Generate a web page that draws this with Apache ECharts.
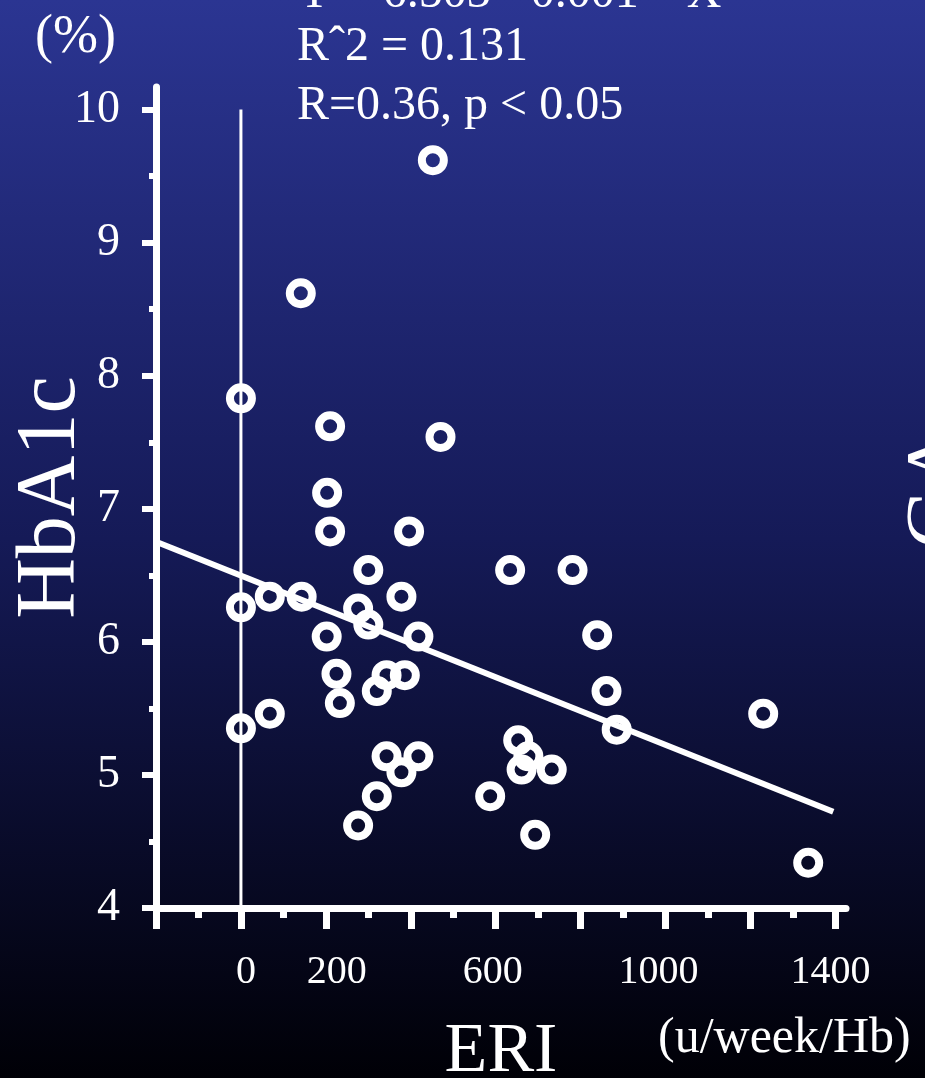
<!DOCTYPE html>
<html>
<head>
<meta charset="utf-8">
<script src="https://cdn.jsdelivr.net/npm/echarts@6/dist/echarts.min.js"></script>
<style>
html,body{margin:0;padding:0;background:#000;}
#chart{width:925px;height:1078px;}
</style>
</head>
<body>
<div id="chart"></div>
<script>
// ERI (u/week/Hb) vs HbA1c (%)
const eri = [452, 141, 0, 210, 470, 203, 210, 396, 300, 634, 781, 68, 143, 378, 0, 276, 300, 202, 418, 839,
             225, 343, 386, 320, 861, 233, 68, 1230, 0, 885, 653, 343, 418, 677, 378, 661, 732, 320, 587, 276, 693, 1336];
const hba1c = [9.62, 8.62, 7.83, 7.62, 7.54, 7.12, 6.83, 6.83, 6.54, 6.54, 6.54, 6.34, 6.34, 6.34, 6.26, 6.25, 6.13, 6.04, 6.04, 6.05,
               5.76, 5.75, 5.75, 5.63, 5.63, 5.54, 5.46, 5.46, 5.35, 5.34, 5.26, 5.14, 5.14, 5.14, 5.02, 5.04, 5.04, 4.84, 4.84, 4.62, 4.55, 4.34];
// regression line end points
const fitX = [-200, 1395];
const fitY = [6.752, 4.724];
// reference line at ERI = 0
const refX = [0, 0];
const refY = [4, 10];
// ticks and labels
const xMajorTicks = [-200, 0, 200, 400, 600, 800, 1000, 1200, 1400];
const xMinorTicks = [-100, 100, 300, 500, 700, 900, 1100, 1300];
const xLabels = [0, 200, 600, 1000, 1400];
const yMajorTicks = [4, 5, 6, 7, 8, 9, 10];
const yMinorTicks = [4.5, 5.5, 6.5, 7.5, 8.5, 9.5];
const yLabels = [4, 5, 6, 7, 8, 9, 10];
const statLines = ['Y = 6.503 - 0.001 * X', 'R\u02C62 = 0.131', 'R=0.36, p < 0.05'];

const FONT = '"Liberation Serif", "DejaVu Serif", serif';
const W = '#ffffff';
// small horizontal nudges of x labels (style only): [left pad, right pad]
const xLabelPad = {0: [10, 0], 200: [22, 0], 600: [0, 6], 1000: [0, 14], 1400: [0, 10]};

const chart = echarts.init(document.getElementById('chart'), null, {renderer: 'canvas'});

const scatterData = eri.map((x, i) => [x, hba1c[i]]);
const fitData = fitX.map((x, i) => [x, fitY[i]]);
const refData = refX.map((x, i) => [x, refY[i]]);

const rich = {};
Object.keys(xLabelPad).forEach(k => {
  rich['p' + k] = {color: W, fontSize: 40, fontFamily: FONT, padding: [0, xLabelPad[k][1], 0, xLabelPad[k][0]]};
});

const option = {
  animation: false,
  backgroundColor: {
    type: 'linear', x: 0, y: 0, x2: 0, y2: 1,
    colorStops: [
      {offset: 0, color: '#2b3592'},
      {offset: 0.5, color: '#151a57'},
      {offset: 1, color: '#000006'}
    ]
  },
  grid: {left: 156, right: 79, top: 87, bottom: 170, containLabel: false, outerBoundsMode: 'none'},
  xAxis: [
    {
      type: 'value', min: -200, max: 1425,
      axisLine: {show: true, onZero: false, lineStyle: {color: W, width: 7}},
      axisTick: {show: true, customValues: xMajorTicks, length: 21, lineStyle: {color: W, width: 7}},
      axisLabel: {show: true, customValues: xLabels, color: W, fontSize: 40, fontFamily: FONT, margin: 44,
                  formatter: v => (xLabelPad[v] ? '{p' + v + '|' + v + '}' : String(v)), rich: rich},
      splitLine: {show: false},
      name: 'ERI', nameLocation: 'middle', nameGap: 110, nameMoveOverlap: false,
      nameTextStyle: {color: W, fontSize: 70, fontFamily: FONT}
    },
    {
      type: 'value', min: -200, max: 1425, position: 'bottom', offset: 0,
      axisLine: {show: false, onZero: false},
      axisTick: {show: true, customValues: xMinorTicks, length: 10, lineStyle: {color: W, width: 7}},
      axisLabel: {show: false},
      splitLine: {show: false}
    }
  ],
  yAxis: [
    {
      type: 'value', min: 4, max: 10.17,
      axisLine: {show: true, onZero: false, lineStyle: {color: W, width: 7}},
      axisTick: {show: true, customValues: yMajorTicks, length: 14, lineStyle: {color: W, width: 6}},
      axisLabel: {show: true, customValues: yLabels, color: W, fontSize: 46, fontFamily: FONT, margin: 36,
                  formatter: v => String(v)},
      splitLine: {show: false},
      name: 'HbA1c', nameLocation: 'middle', nameGap: 62, nameMoveOverlap: false,
      nameTextStyle: {color: W, fontSize: 84, fontFamily: FONT}
    },
    {
      type: 'value', min: 4, max: 10.17, position: 'left', offset: 0,
      axisLine: {show: false, onZero: false},
      axisTick: {show: true, customValues: yMinorTicks, length: 7, lineStyle: {color: W, width: 6}},
      axisLabel: {show: false},
      splitLine: {show: false}
    }
  ],
  series: [
    {
      type: 'line', data: refData, xAxisIndex: 0, yAxisIndex: 0,
      symbol: 'none', lineStyle: {color: W, width: 3}, silent: true, z: 1
    },
    {
      type: 'line', data: fitData, xAxisIndex: 0, yAxisIndex: 0,
      symbol: 'none', lineStyle: {color: W, width: 6}, silent: true, z: 2
    },
    {
      type: 'scatter', data: scatterData, xAxisIndex: 0, yAxisIndex: 0,
      symbol: 'circle', symbolSize: 22,
      itemStyle: {color: 'rgba(0,0,0,0)', borderColor: W, borderWidth: 8, opacity: 1},
      z: 3
    }
  ],
  graphic: [
    {type: 'text', left: 35, top: 11, style: {text: '(%)', fill: W, font: '54px ' + FONT}},
    {type: 'text', left: 297, top: -30, style: {text: statLines[0], fill: W, font: '48px ' + FONT}},
    {type: 'text', left: 297, top: 23, style: {text: statLines[1], fill: W, font: '48px ' + FONT}},
    {type: 'text', left: 297, top: 82, style: {text: statLines[2], fill: W, font: '48px ' + FONT}},
    {type: 'text', left: 658, top: 1014, style: {text: '(u/week/Hb)', fill: W, font: '50px ' + FONT}},
    {type: 'text', x: 900, y: 488, rotation: Math.PI / 2,
     style: {text: 'GA', fill: W, font: '84px ' + FONT, align: 'center', verticalAlign: 'top'}}
  ]
};
chart.setOption(option);
</script>
</body>
</html>
